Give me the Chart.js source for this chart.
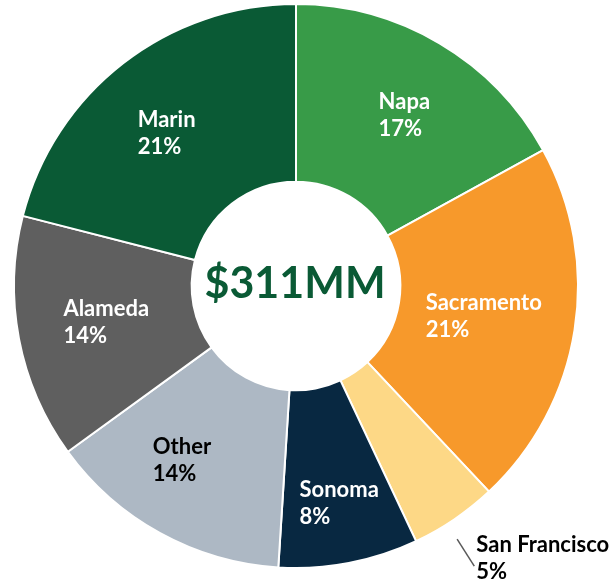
<!DOCTYPE html>
<html>
<head>
<meta charset="utf-8">
<script src="https://cdn.jsdelivr.net/npm/chart.js@4"></script>
<style>
  html, body { margin: 0; padding: 0; background: #fff; }
  #wrap { width: 613px; height: 580px; }
</style>
</head>
<body>
<div id="wrap"><canvas id="regionChart" width="613" height="580"></canvas></div>
<script>
// Share of the $311MM total, clockwise from the top
const regions = ["Napa", "Sacramento", "San Francisco", "Sonoma", "Other", "Alameda", "Marin"];
const shares = [17, 21, 5, 8, 14, 14, 21];
const sliceColors = ["#389B48", "#F7992B", "#FDD886", "#082841", "#ADB8C4", "#5F5F5F", "#0A5A35"];
const textColors = ["#fff", "#fff", "#000", "#fff", "#000", "#fff", "#fff"];
const centerLabel = "$311MM";

// small nudges so labels sit where the original put them
const nudges = { Napa: [10, -4], Sacramento: [-3, 0], Sonoma: [7, 28], Other: [-21, 5], Marin: [-11, 0] };
const outsideLabels = ["San Francisco"];

const sliceLabels = {
    id: "sliceLabels",
    afterDatasetsDraw(chart) {
        const ctx = chart.ctx;
        const meta = chart.getDatasetMeta(0);
        ctx.save();
        ctx.font = "bold 22px Lato";
        ctx.textBaseline = "middle";
        ctx.textAlign = "left";
        const lineH = 27;

        meta.data.forEach((arc, i) => {
            const p = arc.getProps(["x", "y", "startAngle", "endAngle", "innerRadius", "outerRadius"], true);
            const mid = (p.startAngle + p.endAngle) / 2;
            const lines = [regions[i], shares[i] + "%"];
            ctx.fillStyle = textColors[i];

            if (outsideLabels.includes(regions[i])) {
                const a = mid + 0.03;
                const r1 = p.outerRadius + 18;
                const r2 = p.outerRadius + 50;
                const x1 = p.x + r1 * Math.cos(a), y1 = p.y + r1 * Math.sin(a);
                const x2 = p.x + r2 * Math.cos(a), y2 = p.y + r2 * Math.sin(a);
                ctx.strokeStyle = "#595959";
                ctx.lineWidth = 1.5;
                ctx.beginPath();
                ctx.moveTo(x1, y1);
                ctx.lineTo(x2, y2);
                ctx.stroke();
                ctx.fillText(lines[0], x2 + 2, y2 - 21);
                ctx.fillText(lines[1], x2 + 2, y2 + 6);
                return;
            }

            const r = (p.innerRadius + p.outerRadius) / 2;
            const n = nudges[regions[i]] || [0, 0];
            const cx = p.x + r * Math.cos(mid) + n[0];
            const cy = p.y + r * Math.sin(mid) + n[1];
            const w = Math.max(...lines.map(t => ctx.measureText(t).width));
            ctx.fillText(lines[0], cx - w / 2, cy - lineH / 2);
            ctx.fillText(lines[1], cx - w / 2, cy + lineH / 2);
        });
        ctx.restore();
    },
    afterDraw(chart) {
        const ctx = chart.ctx;
        const arc = chart.getDatasetMeta(0).data[0];
        ctx.save();
        ctx.font = "bold 43px Lato";
        ctx.fillStyle = "#0A5A35";
        ctx.textAlign = "center";
        ctx.textBaseline = "middle";
        ctx.fillText(centerLabel, arc.x - 1, arc.y - 2);
        ctx.restore();
    }
};

new Chart(document.getElementById("regionChart").getContext("2d"), {
    type: "doughnut",
    data: {
        labels: regions,
        datasets: [{
            data: shares,
            backgroundColor: sliceColors,
            borderColor: "#ffffff",
            borderWidth: 2
        }]
    },
    options: {
        responsive: false,
        animation: false,
        cutout: "37%",
        layout: { padding: { left: 13, right: 34, top: 3, bottom: 11 } },
        plugins: {
            legend: { display: false },
            tooltip: { enabled: false }
        }
    },
    plugins: [sliceLabels]
});
</script>
</body>
</html>
